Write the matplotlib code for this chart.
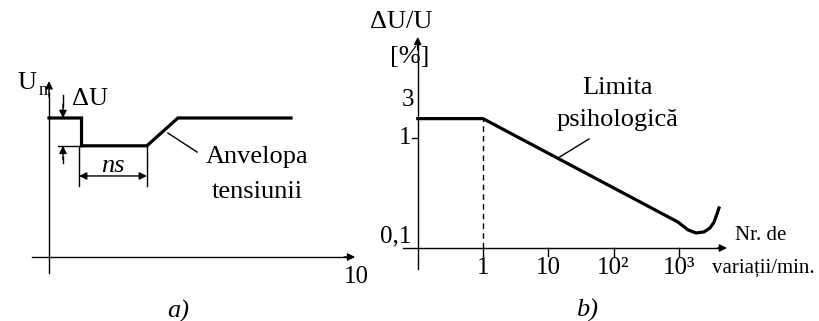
import numpy as np
import matplotlib
matplotlib.use('Agg')
from matplotlib import pyplot as plt

plt.rcParams['font.family'] = ['Liberation Serif', 'DejaVu Serif']

# a) anvelopa tensiunii (unitati relative)
env_t = [0, 1.07, 1.07, 3.22, 4.24, 7.96]
env_u = [1.0, 1.0, 0.8, 0.8, 1.0, 1.0]
u_high = 1.0
u_low = 0.8
ns_start = 0.99
ns_end = 3.22
t_max_label = '10'

# b) limita psihologica (valori citite pe scara log)
lim_x = [0.1, 1, 970, 1380, 1830, 2420, 2990, 3450, 3830, 4110]
lim_y = [1.5, 1.5, 0.172, 0.146, 0.137, 0.140, 0.152, 0.172, 0.204, 0.231]
x_ticks = [1, 10, 100, 1000]
x_tick_labels = ['1', '10', '10²', '10³']
y_ticks = [0.1, 1]
y_tick_labels = ['0,1', '1']
y_label3_pos = 2.2

W, H = 819, 321
fig = plt.figure(figsize=(W / 100, H / 100), dpi=100)

thick = 2.3
thin = 1.0
fs = 19
fs_tick = 18
arrow_kw = dict(arrowstyle='-|>', color='black', lw=thin,
                mutation_scale=11, shrinkA=0, shrinkB=0)

# ---------- panel a ----------
axa = fig.add_axes([0, 0, 400 / W, 1])
axa.set_xlim(-49 / 30.4, (400 - 49) / 30.4)
axa.set_ylim(-64 / 139, (H - 64) / 139)
axa.axis('off')

# axe
axa.plot([0, 0], [-0.115, 1.18], color='black', lw=thin)
axa.annotate('', xy=(0, 1.265), xytext=(0, 1.15), arrowprops=arrow_kw)
axa.plot([-0.56, 9.9], [0, 0], color='black', lw=thin)
axa.annotate('', xy=(10.07, 0), xytext=(9.7, 0), arrowprops=arrow_kw)
axa.text(10.1, -0.145, t_max_label, fontsize=fs_tick, ha='center', va='center')
axa.text(-0.72, 1.255, 'U', fontsize=fs, ha='center', va='center')
axa.text(-0.18, 1.2, 'n', fontsize=13, ha='center', va='center')

# anvelopa
axa.plot(env_t, env_u, color='black', lw=thick, solid_joinstyle='miter')

# cota delta U
xd = 0.46
axa.plot([0.3, 1.07], [u_low, u_low], color='black', lw=thin)
axa.plot([xd, xd], [1.165, u_high + 0.08], color='black', lw=thin)
axa.annotate('', xy=(xd, u_high), xytext=(xd, u_high + 0.1), arrowprops=arrow_kw)
axa.plot([xd, xd], [u_low - 0.08, 0.676], color='black', lw=thin)
axa.annotate('', xy=(xd, u_low), xytext=(xd, u_low - 0.1), arrowprops=arrow_kw)
axa.text(1.35, 1.14, 'ΔU', fontsize=fs, ha='center', va='center')

# cota ns
axa.plot([ns_start, ns_start], [u_low, 0.51], color='black', lw=thin)
axa.plot([ns_end, ns_end], [u_low, 0.51], color='black', lw=thin)
axa.annotate('', xy=(ns_start, 0.583), xytext=(ns_end, 0.583),
             arrowprops=dict(arrowstyle='<|-|>', color='black', lw=thin,
                             mutation_scale=11, shrinkA=0, shrinkB=0))
axa.text(2.1, 0.655, 'ns', fontsize=fs, style='italic', ha='center', va='center')

# eticheta anvelopa
axa.plot([3.91, 4.87], [0.892, 0.755], color='black', lw=thin)
axa.text(6.84, 0.72, 'Anvelopa', fontsize=fs, ha='center', va='center')
axa.text(6.84, 0.47, 'tensiunii', fontsize=fs, ha='center', va='center')

# ---------- panel b ----------
axb = fig.add_axes([400 / W, 0, 1 - 400 / W, 1])
axb.set_xscale('log')
axb.set_yscale('log')
axb.set_xlim(10 ** ((400 - 483) / 65.3), 10 ** ((W - 483) / 65.3))
axb.set_ylim(10 ** (-1 - (H - 248) / 110), 10 ** (-1 + 248 / 110))
axb.axis('off')

# axe
axb.plot([0.1, 0.1], [0.0645, 7.0], color='black', lw=thin)
axb.annotate('', xy=(0.1, 8.3), xytext=(0.1, 6.3), arrowprops=arrow_kw)
axb.plot([0.0596, 4500], [0.1, 0.1], color='black', lw=thin)
axb.annotate('', xy=(5460, 0.1), xytext=(3900, 0.1), arrowprops=arrow_kw)

tick_dy = 10 ** (-8 / 110)
for xv, lab in zip(x_ticks, x_tick_labels):
    axb.plot([xv, xv], [0.1, 0.1 * tick_dy], color='black', lw=thin)
    axb.text(xv, 0.1 * 10 ** (-20 / 110), lab, fontsize=fs_tick, ha='center', va='center')

tick_dx = 10 ** (-6 / 65.3)
axb.plot([0.1 * tick_dx, 0.1], [1, 1], color='black', lw=thin)
for yv, lab in zip(y_ticks, y_tick_labels):
    axb.text(0.1 * tick_dx, yv * 10 ** (12 / 110) if yv < 1 else yv, lab,
             fontsize=fs_tick, ha='right', va='center')
axb.text(0.1 * 10 ** (-10 / 65.3), y_label3_pos, '3', fontsize=fs_tick, ha='center', va='center')

axb.text(0.0555, 11.3, 'ΔU/U', fontsize=fs, ha='center', va='center')
axb.text(0.0762, 5.45, '[%]', fontsize=fs, ha='center', va='center')

# limita
axb.plot(lim_x, lim_y, color='black', lw=thick)
axb.plot([1, 1], [0.1, lim_y[1]], color='black', lw=thin, ls=(0, (4, 3)))

axb.plot([14.1, 42], [0.658, 0.98], color='black', lw=thin)
axb.text(113, 2.85, 'Limita', fontsize=fs, ha='center', va='center')
axb.text(113, 1.46, 'psihologică', fontsize=fs, ha='center', va='center')

axb.text(7200, 0.131, 'Nr. de', fontsize=15, ha='left', va='center')
axb.text(3210, 0.066, 'variații/min.', fontsize=15, ha='left', va='center')

fig.text(178 / W, 1 - 311 / H, 'a)', fontsize=fs, style='italic', ha='center', va='center')
fig.text(587 / W, 1 - 310 / H, 'b)', fontsize=fs, style='italic', ha='center', va='center')

fig.savefig('out.png', dpi=100)
